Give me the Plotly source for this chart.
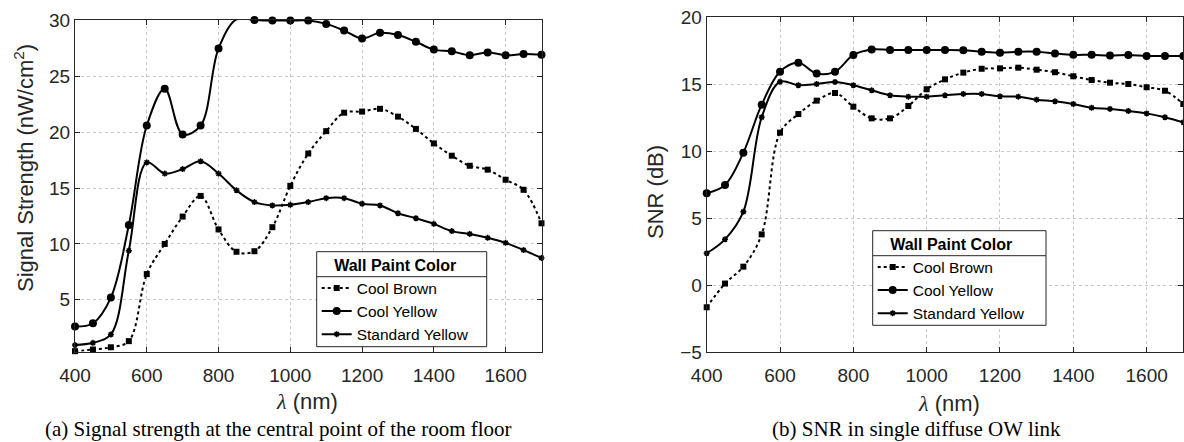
import plotly.graph_objects as go

wl = [400, 450, 500, 550, 600, 650, 700, 750, 800, 850, 900, 950, 1000, 1050,
      1100, 1150, 1200, 1250, 1300, 1350, 1400, 1450, 1500, 1550, 1600, 1650, 1700]

# (a) Signal strength (nW/cm^2)
sig_cool_brown = [0.4, 0.55, 0.75, 1.3, 7.3, 10.0, 12.45, 14.3, 11.3, 9.3, 9.35, 11.5, 15.2, 18.1,
                  20.1, 21.75, 21.85, 22.1, 21.4, 20.3, 19.0, 17.9, 17.0, 16.65, 15.75, 14.85, 11.85]
sig_cool_yellow = [2.6, 2.9, 5.2, 11.7, 20.6, 23.9, 19.8, 20.6, 27.5, 30.1, 30.05, 30.0, 30.0, 30.0,
                   29.7, 29.1, 28.4, 28.9, 28.7, 28.1, 27.4, 27.25, 26.9, 27.15, 26.9, 27.0, 26.95]
sig_std_yellow = [0.95, 1.15, 1.9, 9.4, 17.3, 16.3, 16.7, 17.4, 16.3, 14.8, 13.75, 13.45, 13.5, 13.75,
                  14.1, 14.1, 13.6, 13.45, 12.75, 12.3, 11.8, 11.15, 10.9, 10.55, 10.1, 9.45, 8.75]

# (b) SNR (dB)
snr_cool_brown = [-1.64, 0.13, 1.39, 3.8, 11.39, 12.78, 13.78, 14.35, 13.33, 12.46, 12.46, 13.38, 14.63, 15.37,
                  15.87, 16.16, 16.19, 16.24, 16.09, 15.9, 15.6, 15.32, 15.12, 15.02, 14.78, 14.52, 13.53]
snr_cool_yellow = [6.87, 7.49, 9.9, 13.48, 15.94, 16.6, 15.8, 15.94, 17.19, 17.6, 17.56, 17.56, 17.56, 17.56,
                   17.54, 17.43, 17.36, 17.43, 17.43, 17.3, 17.2, 17.2, 17.14, 17.19, 17.11, 17.11, 17.11]
snr_std_yellow = [2.39, 3.43, 5.49, 12.54, 15.19, 14.93, 15.02, 15.17, 14.93, 14.55, 14.18, 14.08, 14.08, 14.18,
                  14.28, 14.28, 14.1, 14.08, 13.85, 13.73, 13.53, 13.25, 13.16, 13.01, 12.83, 12.54, 12.16]

series_names = ["Cool Brown", "Cool Yellow", "Standard Yellow"]
x_ticks = [400, 600, 800, 1000, 1200, 1400, 1600]
sig_ticks = [5, 10, 15, 20, 25, 30]
snr_ticks = [-5, 0, 5, 10, 15, 20]

SANS = "Liberation Sans"
SERIF = "Liberation Serif"
TXT = "#262626"

styles = [
    dict(dash="dot", symbol="square", size=6, lw=0),
    dict(dash="solid", symbol="circle", size=8, lw=0),
    dict(dash="solid", symbol="asterisk-open", size=5, lw=1.5),
]

fig = go.Figure()

def add_series(ys_list, xa, ya, legend):
    for name, ys, st in zip(series_names, ys_list, styles):
        fig.add_trace(go.Scatter(
            x=wl, y=ys, name=name, xaxis=xa, yaxis=ya, legend=legend,
            mode="lines+markers",
            line=dict(color="black", width=2, dash=st["dash"], shape="spline", smoothing=1.0),
            marker=dict(symbol=st["symbol"], size=st["size"], color="black",
                        line=dict(color="black", width=st["lw"])),
            cliponaxis=False,
        ))

add_series([sig_cool_brown, sig_cool_yellow, sig_std_yellow], "x", "y", "legend")
add_series([snr_cool_brown, snr_cool_yellow, snr_std_yellow], "x2", "y2", "legend2")

W, H = 1184, 442
def px_x(p):
    return p / W
def px_y(p):
    return 1 - p / H

axis_common = dict(
    showline=True, linecolor=TXT, linewidth=1, mirror="ticks",
    ticks="inside", ticklen=5, tickcolor=TXT, automargin=False,
    showgrid=True, gridcolor="#c8c8c8", griddash="dot", gridwidth=1,
    zeroline=False,
    tickfont=dict(family=SANS, size=19, color=TXT),
)

legend_common = dict(
    xanchor="left", yanchor="top",
    bgcolor="rgba(0,0,0,0)", borderwidth=0,
    font=dict(family=SANS, size=15.5, color="black"),
    title=dict(text="<b>Wall Paint Color</b>", side="top center",
               font=dict(family=SANS, size=16, color="black")),
)

fig.update_layout(
    width=W, height=H,
    margin=dict(l=0, r=0, t=0, b=0, autoexpand=False),
    paper_bgcolor="white", plot_bgcolor="white",
    xaxis=dict(domain=[px_x(75), px_x(541.5)], range=[400, 1700], tickvals=x_ticks,
               anchor="y", ticklabelstandoff=6, **axis_common),
    yaxis=dict(domain=[px_y(352.3), px_y(20)], range=[0.3, 30.05], tickvals=sig_ticks,
               anchor="x", **axis_common),
    xaxis2=dict(domain=[px_x(706.7), px_x(1183.3)], range=[400, 1700], tickvals=x_ticks,
                anchor="y2", ticklabelstandoff=6, **axis_common),
    yaxis2=dict(domain=[px_y(352.3), px_y(17.3)], range=[-5, 20], tickvals=snr_ticks,
                anchor="x2", **axis_common),
    legend=dict(x=px_x(316.7), y=px_y(250.5), **legend_common),
    legend2=dict(x=px_x(872.7), y=px_y(229.5), **legend_common),
    showlegend=True,
)

lam = f'<span style="font-family:{SERIF}"><i>λ</i></span> (nm)'
annos = [
    dict(x=px_x(307), y=px_y(401), text=lam, font=dict(family=SANS, size=22, color=TXT)),
    dict(x=px_x(949), y=px_y(403), text=lam, font=dict(family=SANS, size=22, color=TXT)),
    dict(x=px_x(24), y=px_y(168), text="Signal Strength (nW/cm<sup>2</sup>)", textangle=-90,
         font=dict(family=SANS, size=22, color=TXT)),
    dict(x=px_x(655), y=px_y(192), text="SNR (dB)", textangle=-90,
         font=dict(family=SANS, size=22, color=TXT)),
    dict(x=px_x(278.5), y=px_y(429), text="(a) Signal strength at the central point of the room floor",
         font=dict(family=SERIF, size=21, color="black")),
    dict(x=px_x(916.5), y=px_y(429), text="(b) SNR in single diffuse OW link",
         font=dict(family=SERIF, size=21, color="black")),
]
for a in annos:
    fig.add_annotation(xref="paper", yref="paper", showarrow=False,
                       xanchor="center", yanchor="middle", **a)

# legend boxes with a rule under the title (drawn beneath the transparent legends)
for (x0, x1, y0, y1, ys) in [(316.7, 486.7, 251.7, 346.7, 276.7),
                             (872.7, 1046.0, 230.7, 325.3, 255.7)]:
    fig.add_shape(type="rect", xref="paper", yref="paper", layer="above",
                  x0=px_x(x0), x1=px_x(x1), y0=px_y(y1), y1=px_y(y0),
                  fillcolor="white", line=dict(color=TXT, width=1))
    fig.add_shape(type="line", xref="paper", yref="paper", layer="above",
                  x0=px_x(x0), x1=px_x(x1), y0=px_y(ys), y1=px_y(ys),
                  line=dict(color=TXT, width=1))

fig.write_html("out.html")
